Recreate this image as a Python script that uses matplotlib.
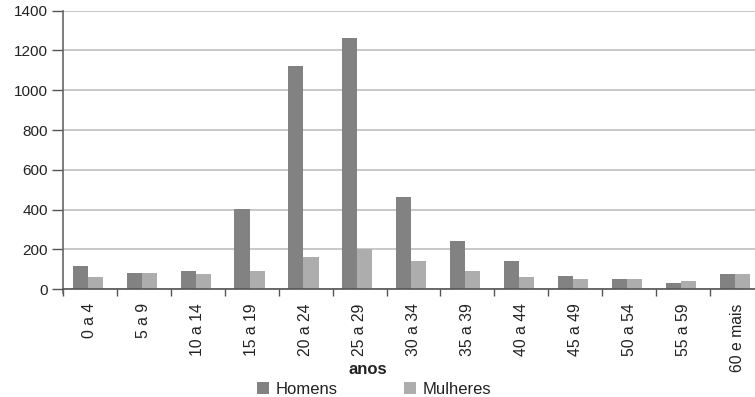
import numpy as np
import matplotlib
matplotlib.use("Agg")
import matplotlib.pyplot as plt

plt.rcParams['font.family'] = ['Liberation Sans', 'DejaVu Sans']

# age groups and counts per sex
faixas = ["0 a 4", "5 a 9", "10 a 14", "15 a 19", "20 a 24", "25 a 29", "30 a 34",
          "35 a 39", "40 a 44", "45 a 49", "50 a 54", "55 a 59", "60 e mais"]
homens = [115, 80, 90, 405, 1120, 1265, 465, 245, 140, 65, 50, 30, 75]
mulheres = [60, 80, 75, 90, 160, 200, 140, 90, 60, 50, 50, 40, 75]
yticks = [0, 200, 400, 600, 800, 1000, 1200, 1400]

cor_h = "#828282"
cor_m = "#adadad"
texto = "#222222"

fig = plt.figure(figsize=(7.55, 3.97), dpi=100)
ax = fig.add_axes([0.0834, 0.2713, 0.9285, 0.7018])

x = np.arange(len(faixas))
w = 0.28
off = -0.04
ax.bar(x + off - w / 2, homens, w, color=cor_h, label="Homens", zorder=3)
ax.bar(x + off + w / 2, mulheres, w, color=cor_m, label="Mulheres", zorder=3)

ax.set_xlim(-0.5, len(faixas) - 0.5)
ax.set_ylim(0, 1400)
ax.set_yticks(yticks)
ax.yaxis.grid(True, color="#c4c4c4", linewidth=1.3, zorder=0)
ax.set_axisbelow(True)

# boundary ticks between groups, labels centred on each group
ax.set_xticks(np.arange(-0.5, len(faixas), 1.0))
ax.set_xticklabels([])
ax.set_xticks(x, minor=True)
ax.set_xticklabels(faixas, minor=True, rotation=90, fontsize=11.3, color=texto)
ax.tick_params(axis="x", which="minor", length=0, pad=10)
ax.tick_params(axis="x", which="major", length=5, width=1, color="#555555", direction="out")
ax.tick_params(axis="y", length=8, width=1, color="#555555", labelsize=11,
               labelcolor=texto, pad=3)

for s in ["top", "right"]:
    ax.spines[s].set_visible(False)
ax.spines["left"].set_color("#666666")
ax.spines["left"].set_linewidth(1.2)
ax.spines["left"].set_bounds(-18, 1400)
ax.spines["bottom"].set_color("#555555")
ax.spines["bottom"].set_linewidth(1.2)
ax.spines["bottom"].set_zorder(4)

fig.text(368 / 755, 1 - 370 / 397, "anos", ha="center", va="center",
         fontsize=12, fontweight="bold", color=texto)

h, l = ax.get_legend_handles_labels()
fig.legend(h, l, loc="center", bbox_to_anchor=(374 / 755, 1 - 389 / 397), ncol=2,
           frameon=False, fontsize=12, handlelength=0.7, handleheight=0.7,
           handletextpad=0.4, columnspacing=4.0, borderpad=0, labelcolor=texto)

fig.savefig("out.png", dpi=100)
